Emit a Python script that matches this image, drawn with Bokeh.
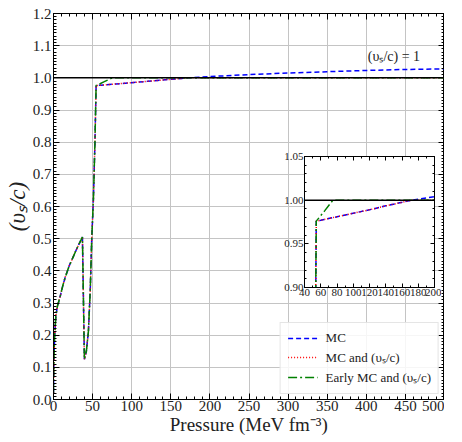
from bokeh.plotting import figure
from bokeh.models import (Span, Label, Legend, LegendItem, LinearAxis, SingleIntervalTicker,
                          CustomJSTickFormatter, PrintfTickFormatter, Range1d)
from bokeh.layouts import column
from bokeh.embed import file_html
from bokeh.resources import INLINE

# low-pressure part: all three runs coincide
p_low = [0, 0.5, 1.5, 3, 5, 8.5, 12, 15, 20, 25.5, 30, 34, 37, 39.5, 42, 44.6, 47, 48.9, 51, 53, 54.5]
cs_low = [0.02, 0.12, 0.2, 0.26, 0.29, 0.32, 0.355, 0.38, 0.415, 0.445, 0.47, 0.49, 0.505,
          0.125, 0.15, 0.21, 0.34, 0.5, 0.62, 0.8, 0.976]

# MC
p_mc = [60, 80, 100, 120, 140, 160, 172, 200, 250, 300, 350, 400, 450, 500]
cs_mc = [0.977, 0.981, 0.985, 0.989, 0.9935, 0.9975, 1.0, 1.004, 1.010, 1.015, 1.019, 1.023, 1.026, 1.028]
# MC and (vs/c)
p_mcc = [60, 80, 100, 120, 140, 160, 172, 500]
cs_mcc = [0.977, 0.981, 0.985, 0.989, 0.9935, 0.9975, 1.0, 1.0]
# Early MC and (vs/c)
p_early = [65, 75, 500]
cs_early = [0.988, 1.0, 1.0]

SERIF = "Liberation Serif"

series = [
    ("MC", p_low + p_mc, cs_low + cs_mc, "blue", "5 3"),
    ("MC and (υₛ/c)", p_low + p_mcc, cs_low + cs_mcc, "red", "1 2"),
    ("Early MC and (υₛ/c)", p_low + p_early, cs_low + cs_early, "green", "9 3 2 3"),
]

blank = CustomJSTickFormatter(code="return ''")


def style_axes(fig, xint, xminor, yint, yminor, xfmt, yfmt, fsize, tick_in, minor_in):
    bottom = fig.below[0]
    left = fig.left[0]
    xt = SingleIntervalTicker(interval=xint, num_minor_ticks=xminor)
    yt = SingleIntervalTicker(interval=yint, num_minor_ticks=yminor)
    bottom.ticker = xt
    left.ticker = yt
    bottom.formatter = PrintfTickFormatter(format=xfmt)
    left.formatter = PrintfTickFormatter(format=yfmt)
    top = LinearAxis(ticker=xt, formatter=blank)
    right = LinearAxis(ticker=yt, formatter=blank)
    fig.add_layout(top, "above")
    fig.add_layout(right, "right")
    for ax in [bottom, left, top, right]:
        ax.major_tick_in = tick_in
        ax.major_tick_out = 0
        ax.minor_tick_in = minor_in
        ax.minor_tick_out = 0
        ax.axis_line_color = "black"
        ax.major_tick_line_color = "black"
        ax.minor_tick_line_color = "black"
        ax.major_label_text_font = SERIF
        ax.major_label_text_font_size = fsize
        ax.major_label_text_color = "#222222"
        ax.major_label_standoff = 2
    for ax in (top, right):
        ax.major_label_standoff = 0
        ax.major_label_text_font_size = "0px"
    return bottom, left


p = figure(frame_width=391, frame_height=386, x_range=Range1d(0, 500), y_range=Range1d(0, 1.2 + 1e-9),
           output_backend="svg", toolbar_location=None,
           min_border_left=53, min_border_right=0, min_border_top=13, min_border_bottom=28)
bx, ly = style_axes(p, 50, 5, 0.1, 10, "%d", "%.1f", "15px", 6, 3)
bx.axis_label = "Pressure (MeV fm⁻³)"
ly.axis_label = "(υₛ/c)"
for ax in (bx, ly):
    ax.axis_label_text_font = SERIF
    ax.axis_label_text_font_style = "normal"
    ax.axis_label_standoff = 0
    ax.axis_label_text_color = "#222222"
bx.major_label_standoff = 1
bx.axis_label_text_font_size = "19px"
ly.axis_label_text_font_size = "23px"
ly.axis_label_text_font_style = "italic"
p.xgrid.grid_line_color = "#c4c4c4"
p.ygrid.grid_line_color = "#c4c4c4"
p.outline_line_color = "black"

p.add_layout(Span(location=1.0, dimension="width", line_color="black", line_width=1.5))

items = []
for name, xs, ys, col, dash in series:
    r = p.line(xs, ys, line_color=col, line_dash=dash, line_width=1.5)
    items.append(LegendItem(label=name, renderers=[r]))

p.add_layout(Label(x=402, y=1.066, text="(υₛ/c) = 1", text_font=SERIF, text_font_size="14px",
                   text_baseline="middle", text_align="left", text_color="#222222"))

legend = Legend(items=items, location="bottom_right", margin=5, padding=7, spacing=2,
                label_height=14, glyph_height=14,
                glyph_width=30, label_standoff=8, label_text_font=SERIF,
                label_text_font_size="13px", label_text_color="#222222",
                border_line_color="#cccccc", background_fill_alpha=0.85)
p.add_layout(legend)

# inset
q = figure(frame_width=130, frame_height=131, x_range=Range1d(40, 200), y_range=Range1d(0.90, 1.05 + 1e-9),
           output_backend="svg", toolbar_location=None,
           min_border_left=50, min_border_right=10, min_border_top=6, min_border_bottom=12)
style_axes(q, 20, 2, 0.05, 5, "%d", "%.2f", "11px", 4, 2)
for ax in q.below + q.left:
    ax.major_label_standoff = 1
q.grid.visible = False
q.outline_line_color = "black"
q.border_fill_alpha = 0
q.add_layout(Span(location=1.0, dimension="width", line_color="black", line_width=1.5))
for name, xs, ys, col, dash in series:
    q.line(xs, ys, line_color=col, line_dash=dash, line_width=1.5)
q.styles = {"position": "absolute", "left": "251px", "top": "150px"}

layout = column(p, q)
layout.styles = {"position": "relative"}

open("out.html", "w").write(file_html(layout, INLINE))
